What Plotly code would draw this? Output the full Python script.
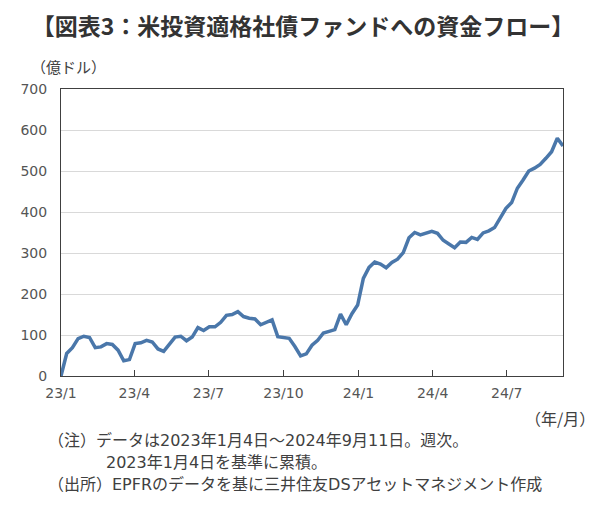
import pandas as pd
import plotly.graph_objects as go

# Weekly data: 2023-01-04 .. 2024-09-11 (89 weeks), cumulative flow (100 million USD)
dates = pd.date_range("2023-01-04", "2024-09-11", freq="7D")
flows = [0, 55, 69, 91, 97, 94, 69, 71, 79, 77,
         63, 37, 40, 79, 81, 87, 83, 66, 60, 77,
         95, 97, 86, 95, 118, 111, 120, 120, 131, 148,
         150, 157, 145, 141, 139, 125, 131, 137, 96, 93,
         92, 72, 49, 54, 75, 87, 105, 109, 113, 151,
         125, 152, 173, 238, 265, 278, 273, 264, 277, 285,
         301, 337, 350, 344, 348, 353, 348, 331, 322, 313,
         327, 326, 338, 333, 349, 354, 362, 384, 409, 423,
         458, 478, 500, 507, 516, 531, 547, 580, 561]

y_ticks = [0, 100, 200, 300, 400, 500, 600, 700]

title_text = "【図表3：米投資適格社債ファンドへの資金フロー】"
y_unit = "（億ドル）"
x_unit = "（年/月）"
note_lines = ["（注）データは2023年1月4日～2024年9月11日。週次。",
              "2023年1月4日を基準に累積。",
              "（出所）EPFRのデータを基に三井住友DSアセットマネジメント作成"]

JP = "Noto Sans CJK JP"
MIX = "DejaVu Sans, Noto Sans CJK JP"
NUM = "DejaVu Sans"
TXT = "#404040"

fig = go.Figure()
fig.add_trace(go.Scatter(x=dates, y=flows, mode="lines",
                         line=dict(color="#4a77aa", width=3.5),
                         hoverinfo="skip", showlegend=False))

fig.update_layout(
    width=600, height=511,
    margin=dict(l=61, r=37, t=89, b=135),
    paper_bgcolor="white", plot_bgcolor="white",
    title=dict(text=title_text, x=0.505, xanchor="center", y=1 - 27 / 511,
               yanchor="middle", yref="container",
               font=dict(family=JP, size=23, color="#333333", weight="bold")),
    xaxis=dict(type="date", range=["2023-01-04", "2024-09-11"],
               tick0="2023-01-04", dtick="M3", tickformat="%y/%-m",
               ticks="inside", ticklen=6, tickcolor="#404040",
               showgrid=False, showline=True, linecolor="#404040", linewidth=1,
               mirror=True, ticklabelstandoff=4,
               tickfont=dict(family=NUM, size=14, color="#555555")),
    yaxis=dict(range=[0, 700], tickvals=y_ticks, showgrid=True,
               gridcolor="#d9d9d9", gridwidth=1, zeroline=False,
               showline=True, linecolor="#404040", linewidth=1, mirror=True,
               ticks="", ticklabelstandoff=10,
               tickfont=dict(family=NUM, size=14, color="#555555")),
)

def px_x(p):
    return (p - 61) / 502

def px_y(p):
    return (376 - p) / 287

fig.add_annotation(text=y_unit, xref="paper", yref="paper",
                   x=px_x(29), y=px_y(67),
                   xanchor="left", yanchor="middle", showarrow=False,
                   font=dict(family=JP, size=15, color=TXT))
fig.add_annotation(text=x_unit, xref="paper", yref="paper",
                   x=px_x(597), y=px_y(418),
                   xanchor="right", yanchor="middle", showarrow=False,
                   font=dict(family=JP, size=16, color=TXT))

note_x = [46, 104, 46]
note_y = [440, 462, 484]
for line, nx, ny in zip(note_lines, note_x, note_y):
    fig.add_annotation(text=line, xref="paper", yref="paper",
                       x=px_x(nx), y=px_y(ny),
                       xanchor="left", yanchor="middle", align="left",
                       showarrow=False,
                       font=dict(family=MIX, size=16, color=TXT))

fig.write_html("out.html")
